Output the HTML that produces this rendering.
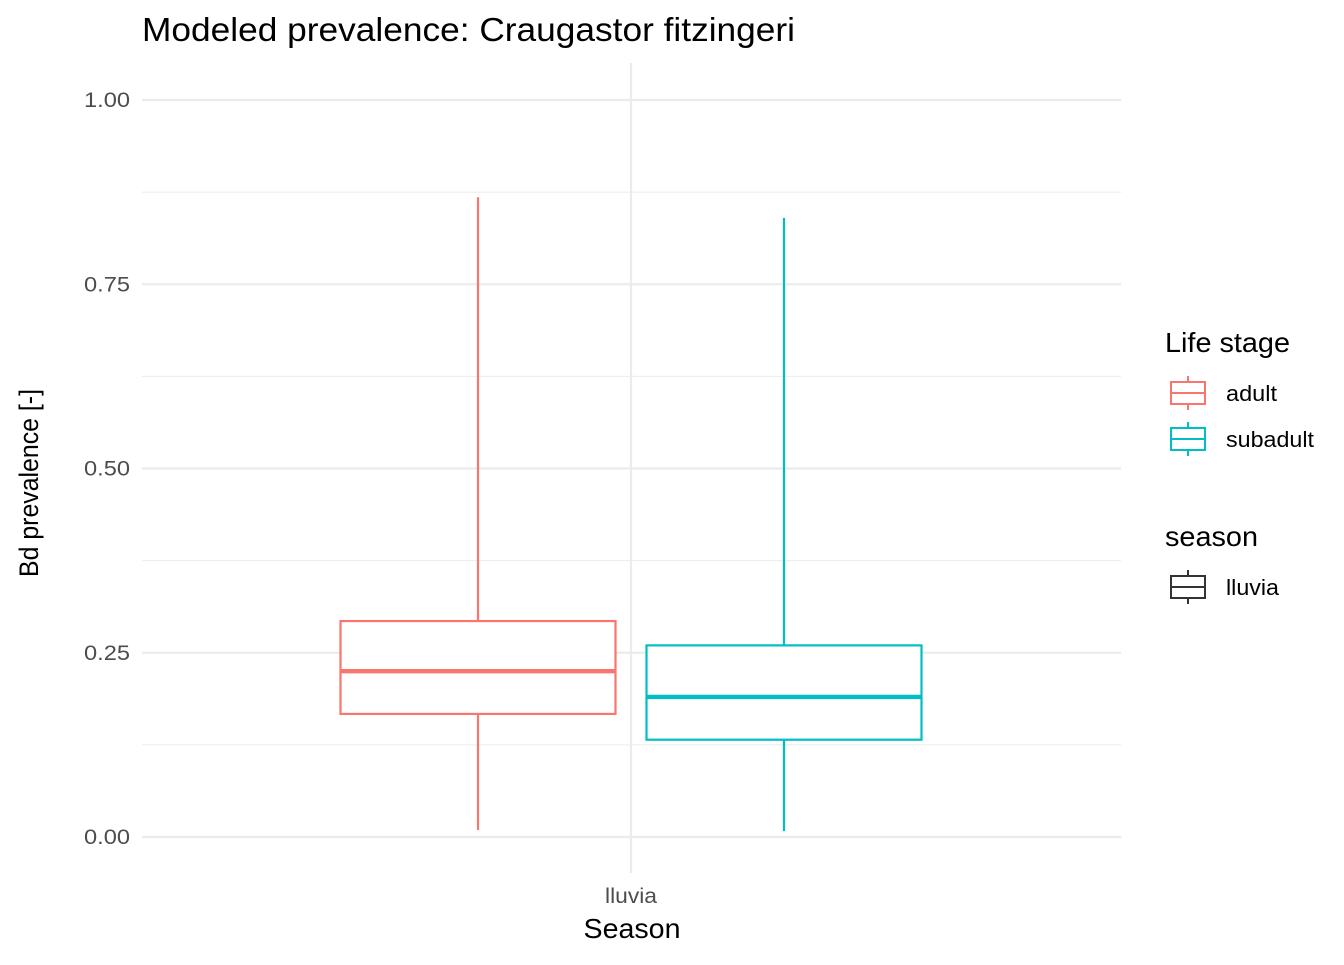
<!DOCTYPE html>
<html><head><meta charset="utf-8"><style>
body{margin:0;background:#fff;font-family:"Liberation Sans",sans-serif}
</style></head><body>
<svg width="1344" height="960" xmlns="http://www.w3.org/2000/svg" font-family="Liberation Sans, sans-serif">
<text x="142" y="41" font-size="33" textLength="653" lengthAdjust="spacingAndGlyphs" fill="#000">Modeled prevalence: Craugastor fitzingeri</text>
<g id="grid"></g>
<g id="yticks"></g>
<text x="631" y="903" font-size="21" textLength="52" lengthAdjust="spacingAndGlyphs" fill="#4d4d4d" text-anchor="middle">lluvia</text>
<text x="632" y="938" font-size="28" textLength="97" lengthAdjust="spacingAndGlyphs" text-anchor="middle">Season</text>
<text transform="translate(38,483) rotate(-90)" font-size="27" textLength="188" lengthAdjust="spacingAndGlyphs" text-anchor="middle">Bd prevalence [-]</text>
<g id="boxes"></g>
<g>
<text x="1165" y="352" font-size="28" textLength="125" lengthAdjust="spacingAndGlyphs">Life stage</text>
<g>
<line x1="1188" y1="376" x2="1188" y2="410" stroke="#F8766D" stroke-width="2"/>
<rect x="1171" y="382" width="34" height="22" fill="#fff" stroke="#F8766D" stroke-width="2"/>
<line x1="1171" y1="393" x2="1205" y2="393" stroke="#F8766D" stroke-width="2"/>
<text x="1226" y="401" font-size="22" textLength="51" lengthAdjust="spacingAndGlyphs">adult</text></g>
<g>
<line x1="1188" y1="422" x2="1188" y2="456" stroke="#00BFC4" stroke-width="2"/>
<rect x="1171" y="428" width="34" height="22" fill="#fff" stroke="#00BFC4" stroke-width="2"/>
<line x1="1171" y1="439" x2="1205" y2="439" stroke="#00BFC4" stroke-width="2"/>
<text x="1226" y="447" font-size="22" textLength="88" lengthAdjust="spacingAndGlyphs">subadult</text></g>
<text x="1165" y="546" font-size="28" textLength="93" lengthAdjust="spacingAndGlyphs">season</text>
<g>
<line x1="1188" y1="570" x2="1188" y2="604" stroke="#333" stroke-width="2"/>
<rect x="1171" y="576" width="34" height="22" fill="#fff" stroke="#333" stroke-width="2"/>
<line x1="1171" y1="587" x2="1205" y2="587" stroke="#333" stroke-width="2"/>
<text x="1226" y="595" font-size="22" textLength="53" lengthAdjust="spacingAndGlyphs">lluvia</text></g>
</g>
</svg>
<script>
const groups=["adult","subadult"];
const colors=["#F8766D","#00BFC4"];
const lowWhisker=[0.0095,0.008];
const q1=[0.167,0.132];
const median=[0.225,0.19];
const q3=[0.293,0.26];
const highWhisker=[0.868,0.84];
const yTicks=[0,0.25,0.5,0.75,1];
const yTickLabels=["0.00","0.25","0.50","0.75","1.00"];
const NS="http://www.w3.org/2000/svg";
const y=v=>837-v*737;
const xc=i=>631+(i-0.5)*306;
const bw=275;
function mk(t,a,p){const e=document.createElementNS(NS,t);for(const k in a)e.setAttribute(k,a[k]);p.appendChild(e);return e;}
const grid=document.getElementById('grid');
for(let i=0;i<yTicks.length-1;i++){const l=mk('line',{x1:142,x2:1121,y1:y((yTicks[i]+yTicks[i+1])/2),y2:y((yTicks[i]+yTicks[i+1])/2),stroke:'#ebebeb','stroke-width':1.1},grid);

}
yTicks.forEach((t,i)=>{const l=mk('line',{x1:142,x2:1121,y1:y(t),y2:y(t),stroke:'#ebebeb','stroke-width':2.2},grid);


const tx=mk('text',{x:130,y:y(t)+7,'font-size':21,textLength:46,lengthAdjust:'spacingAndGlyphs',fill:'#4d4d4d','text-anchor':'end'},document.getElementById('yticks'));
tx.textContent=yTickLabels[i];

});
const vl=mk('line',{x1:631,x2:631,y1:63,y2:873,stroke:'#ebebeb','stroke-width':2.2},grid);


const bx=document.getElementById('boxes');
groups.forEach((g,i)=>{const gr=mk('g',{},bx);


const c=colors[i],x=xc(i);
mk('line',{x1:x,x2:x,y1:y(highWhisker[i]),y2:y(q3[i]),stroke:c,'stroke-width':2.2},gr);
mk('line',{x1:x,x2:x,y1:y(q1[i]),y2:y(lowWhisker[i]),stroke:c,'stroke-width':2.2},gr);
mk('rect',{x:x-bw/2,y:y(q3[i]),width:bw,height:y(q1[i])-y(q3[i]),fill:'#fff',stroke:c,'stroke-width':2.2},gr);
mk('line',{x1:x-bw/2,x2:x+bw/2,y1:y(median[i]),y2:y(median[i]),stroke:c,'stroke-width':4.4},gr);});
</script>
</body></html>
